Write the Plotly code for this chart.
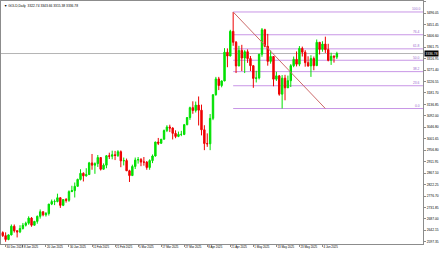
import plotly.graph_objects as go

# ---------------- data ----------------
dates = [
    "2024-12-27", "2024-12-30", "2024-12-31", "2025-01-02", "2025-01-03",
    "2025-01-06", "2025-01-07", "2025-01-08", "2025-01-09", "2025-01-10",
    "2025-01-13", "2025-01-14", "2025-01-15", "2025-01-16", "2025-01-17",
    "2025-01-20", "2025-01-21", "2025-01-22", "2025-01-23", "2025-01-24",
    "2025-01-27", "2025-01-28", "2025-01-29", "2025-01-30", "2025-01-31",
    "2025-02-03", "2025-02-04", "2025-02-05", "2025-02-06", "2025-02-07",
    "2025-02-10", "2025-02-11", "2025-02-12", "2025-02-13", "2025-02-14",
    "2025-02-17", "2025-02-18", "2025-02-19", "2025-02-20", "2025-02-21",
    "2025-02-24", "2025-02-25", "2025-02-26", "2025-02-27", "2025-02-28",
    "2025-03-03", "2025-03-04", "2025-03-05", "2025-03-06", "2025-03-07",
    "2025-03-10", "2025-03-11", "2025-03-12", "2025-03-13", "2025-03-14",
    "2025-03-17", "2025-03-18", "2025-03-19", "2025-03-20", "2025-03-21",
    "2025-03-24", "2025-03-25", "2025-03-26", "2025-03-27", "2025-03-28",
    "2025-03-31", "2025-04-01", "2025-04-02", "2025-04-03", "2025-04-04",
    "2025-04-07", "2025-04-08", "2025-04-09", "2025-04-10", "2025-04-11",
    "2025-04-14", "2025-04-15", "2025-04-16", "2025-04-17", "2025-04-21",
    "2025-04-22", "2025-04-23", "2025-04-24", "2025-04-25", "2025-04-28",
    "2025-04-29", "2025-04-30", "2025-05-01", "2025-05-02", "2025-05-05",
    "2025-05-06", "2025-05-07", "2025-05-08", "2025-05-09", "2025-05-12",
    "2025-05-13", "2025-05-14", "2025-05-15", "2025-05-16", "2025-05-19",
    "2025-05-20", "2025-05-21", "2025-05-22", "2025-05-23", "2025-05-26",
    "2025-05-27", "2025-05-28", "2025-05-29", "2025-05-30", "2025-06-02",
    "2025-06-03", "2025-06-04", "2025-06-05", "2025-06-06", "2025-06-09",
    "2025-06-10", "2025-06-11",
]

opens = [
    2633, 2621, 2606, 2624, 2658, 2640, 2636, 2649, 2662, 2670,
    2690, 2662, 2677, 2697, 2715, 2703, 2708, 2745, 2755, 2755,
    2770, 2740, 2763, 2760, 2794, 2798, 2815, 2842, 2866, 2856,
    2861, 2907, 2898, 2904, 2928, 2882, 2898, 2935, 2933, 2939,
    2936, 2951, 2915, 2916, 2876, 2857, 2893, 2918, 2920, 2910,
    2910, 2889, 2916, 2934, 2989, 2984, 3000, 3034, 3048, 3044,
    3023, 3011, 3019, 3019, 3057, 3085, 3124, 3113, 3134, 3114,
    3037, 2983, 2982, 3082, 3175, 3237, 3211, 3229, 3342, 3327,
    3424, 3381, 3288, 3349, 3319, 3344, 3317, 3289, 3239, 3241,
    3334, 3430, 3365, 3306, 3325, 3236, 3249, 3177, 3240, 3202,
    3230, 3289, 3314, 3295, 3357, 3342, 3301, 3288, 3317, 3289,
    3381, 3353, 3374, 3352, 3310, 3326, 3322.74,
]
highs = [
    2638, 2634, 2626, 2665, 2665, 2643, 2662, 2671, 2676, 2697,
    2694, 2679, 2700, 2724, 2716, 2714, 2746, 2763, 2763, 2786,
    2772, 2765, 2769, 2799, 2817, 2830, 2845, 2882, 2870, 2886,
    2911, 2942, 2909, 2938, 2929, 2905, 2938, 2947, 2955, 2954,
    2957, 2956, 2928, 2924, 2880, 2900, 2928, 2930, 2926, 2930,
    2914, 2921, 2940, 2990, 3005, 3001, 3038, 3055, 3057, 3047,
    3035, 3030, 3033, 3060, 3087, 3128, 3149, 3148, 3168, 3136,
    3055, 3023, 3099, 3176, 3245, 3245, 3231, 3358, 3357, 3430,
    3500.1, 3386, 3367, 3371, 3350, 3353, 3327, 3290, 3269, 3335,
    3437, 3434, 3414, 3349, 3326, 3265, 3252, 3252, 3253, 3250,
    3295, 3325, 3345, 3366, 3364, 3350, 3326, 3330, 3325, 3392,
    3382, 3385, 3403, 3375, 3340, 3330, 3343.66,
]
lows = [
    2616, 2597, 2603, 2622, 2633, 2614, 2631, 2645, 2657, 2664,
    2656, 2661, 2668, 2688, 2697, 2696, 2700, 2741, 2741, 2752,
    2730, 2737, 2751, 2754, 2793, 2771, 2813, 2838, 2834, 2853,
    2860, 2880, 2864, 2891, 2877, 2881, 2886, 2922, 2921, 2918,
    2930, 2890, 2897, 2875, 2832, 2857, 2883, 2904, 2894, 2896,
    2880, 2880, 2906, 2932, 2977, 2982, 2999, 3028, 3028, 2999,
    3004, 3008, 3012, 3016, 3055, 3076, 3100, 3105, 3054, 3015,
    2957, 2970, 2957, 3075, 3171, 3193, 3204, 3228, 3283, 3326,
    3367, 3260, 3287, 3268, 3260, 3300, 3268, 3202, 3223, 3235,
    3324, 3361, 3289, 3297, 3208, 3229, 3171, 3120.6, 3153, 3205,
    3205, 3283, 3286, 3287, 3325, 3285, 3285, 3245, 3271, 3289,
    3333, 3344, 3339, 3306, 3292, 3301, 3315.38,
]
closes = [
    2621, 2606, 2624, 2658, 2640, 2636, 2649, 2662, 2670, 2690,
    2662, 2677, 2697, 2715, 2703, 2708, 2745, 2755, 2755, 2770,
    2740, 2763, 2760, 2794, 2798, 2815, 2842, 2866, 2856, 2861,
    2907, 2898, 2904, 2928, 2882, 2898, 2935, 2933, 2939, 2936,
    2951, 2915, 2916, 2876, 2857, 2893, 2918, 2920, 2910, 2910,
    2889, 2916, 2934, 2989, 2984, 3000, 3034, 3048, 3044, 3023,
    3011, 3019, 3019, 3057, 3085, 3124, 3113, 3134, 3114, 3037,
    2983, 2982, 3082, 3175, 3237, 3211, 3229, 3342, 3327, 3424,
    3381, 3288, 3349, 3319, 3344, 3317, 3289, 3239, 3241, 3334,
    3430, 3365, 3306, 3325, 3236, 3249, 3177, 3240, 3202, 3230,
    3289, 3314, 3295, 3357, 3342, 3301, 3288, 3317, 3289, 3381,
    3353, 3374, 3352, 3310, 3326, 3322.74, 3336.78,
]

ytick_labels = [
    "3541.25", "3496.05", "3451.45", "3406.60", "3361.75", "3316.95",
    "3271.40", "3226.55", "3181.70", "3136.85", "3092.00", "3046.80",
    "3001.65", "2956.80", "2911.95", "2867.10", "2822.25", "2776.70",
    "2731.85", "2687.00", "2642.15", "2597.35",
]
xtick_dates = [
    "2024-12-30", "2025-01-08", "2025-01-20", "2025-01-30", "2025-02-11",
    "2025-02-21", "2025-03-05", "2025-03-17", "2025-03-27", "2025-04-08",
    "2025-04-21", "2025-05-01", "2025-05-13", "2025-05-23", "2025-06-04",
]
xtick_labels = [
    "30 Dec 2024", "8 Jan 2025", "20 Jan 2025", "30 Jan 2025", "11 Feb 2025",
    "21 Feb 2025", "5 Mar 2025", "17 Mar 2025", "27 Mar 2025", "8 Apr 2025",
    "21 Apr 2025", "1 May 2025", "13 May 2025", "23 May 2025", "4 Jun 2025",
]

fib_levels = [0.0, 23.6, 38.2, 50.0, 61.8, 76.4, 100.0]
fib_start_date, fib_high = "2025-04-22", 3500.1
fib_end_date, fib_low = "2025-06-05", 3120.6

title_text = "GOLD,Daily  3322.74 3343.66 3315.38 3336.78"

# ---------------- figure ----------------
idx = list(range(len(dates)))
x_min, x_max = -0.6, 145.9
y_min, y_max = 2588.2, 3543.2

FONT = "Liberation Sans"
BULL = "#00e000"
BEAR = "#ee0000"
FIBC = "#c896e6"
AXC = "#8c8c8c"
FS = 3.3
FSX = 2.9

fig = go.Figure()

fig.add_trace(go.Candlestick(
    x=idx, open=opens, high=highs, low=lows, close=closes,
    text=dates, hoverinfo="text+y",
    increasing=dict(line=dict(color=BULL, width=1), fillcolor=BULL),
    decreasing=dict(line=dict(color=BEAR, width=1), fillcolor=BEAR),
    whiskerwidth=0, showlegend=False,
))

i0 = dates.index(fib_start_date)
i1 = dates.index(fib_end_date)

# fib level lines + labels
for lvl in fib_levels:
    p = fib_low + (fib_high - fib_low) * lvl / 100.0
    fig.add_shape(type="line", xref="x", yref="y", x0=i0, x1=x_max, y0=p, y1=p,
                  line=dict(color=FIBC, width=1), layer="below")
    fig.add_annotation(x=x_max, y=p, xref="x", yref="y", text=f"{lvl:.1f}",
                       showarrow=False, xanchor="right", yanchor="bottom",
                       xshift=-1, yshift=-1.5,
                       font=dict(family=FONT, size=FS, color="#9a66cc"))

# fib diagonal
fig.add_trace(go.Scatter(
    x=[i0, i1], y=[fib_high, fib_low], mode="lines",
    line=dict(color="#cc6a6a", width=1), hoverinfo="skip", showlegend=False,
))

# bid line
last = closes[-1]
fig.add_shape(type="line", xref="paper", yref="y", x0=0, x1=1, y0=last, y1=last,
              line=dict(color="#b4b4b4", width=1), layer="below")
fig.add_annotation(x=1, y=last, xref="paper", yref="y", text=f"{last:.2f}",
                   showarrow=False, xanchor="left", yanchor="middle", xshift=0.5,
                   bgcolor="#000000", borderpad=0.6,
                   font=dict(family=FONT, size=FS, color="#ffffff"))

# title
fig.add_annotation(x=0, y=1, xref="paper", yref="paper", text="▼ " + title_text,
                   showarrow=False, xanchor="left", yanchor="top", xshift=0.5, yshift=-0.5,
                   font=dict(family=FONT, size=FS, color="#000000"))

fig.update_layout(
    width=440, height=254,
    margin=dict(l=1, r=17, t=1, b=10, pad=0),
    paper_bgcolor="#ffffff", plot_bgcolor="#ffffff",
    font=dict(family=FONT, size=FS, color="#000000"),
    showlegend=False,
    xaxis=dict(
        range=[x_min, x_max], rangeslider=dict(visible=False),
        showgrid=False, zeroline=False,
        showline=True, mirror=True, linecolor=AXC, linewidth=1,
        tickmode="array",
        tickvals=[dates.index(d) for d in xtick_dates], ticktext=xtick_labels,
        ticks="outside", ticklen=2, tickcolor=AXC, tickwidth=1,
        ticklabelposition="outside right", tickangle=0,
        tickfont=dict(family=FONT, size=FSX, color="#000000"),
        fixedrange=True,
    ),
    yaxis=dict(
        range=[y_min, y_max], side="right",
        showgrid=False, zeroline=False,
        showline=True, mirror=True, linecolor=AXC, linewidth=1,
        tickmode="array",
        tickvals=[float(t) for t in ytick_labels], ticktext=ytick_labels,
        ticks="outside", ticklen=2, tickcolor=AXC, tickwidth=1,
        tickfont=dict(family=FONT, size=FS, color="#000000"),
        fixedrange=True,
    ),
)

fig.write_html("out.html")
